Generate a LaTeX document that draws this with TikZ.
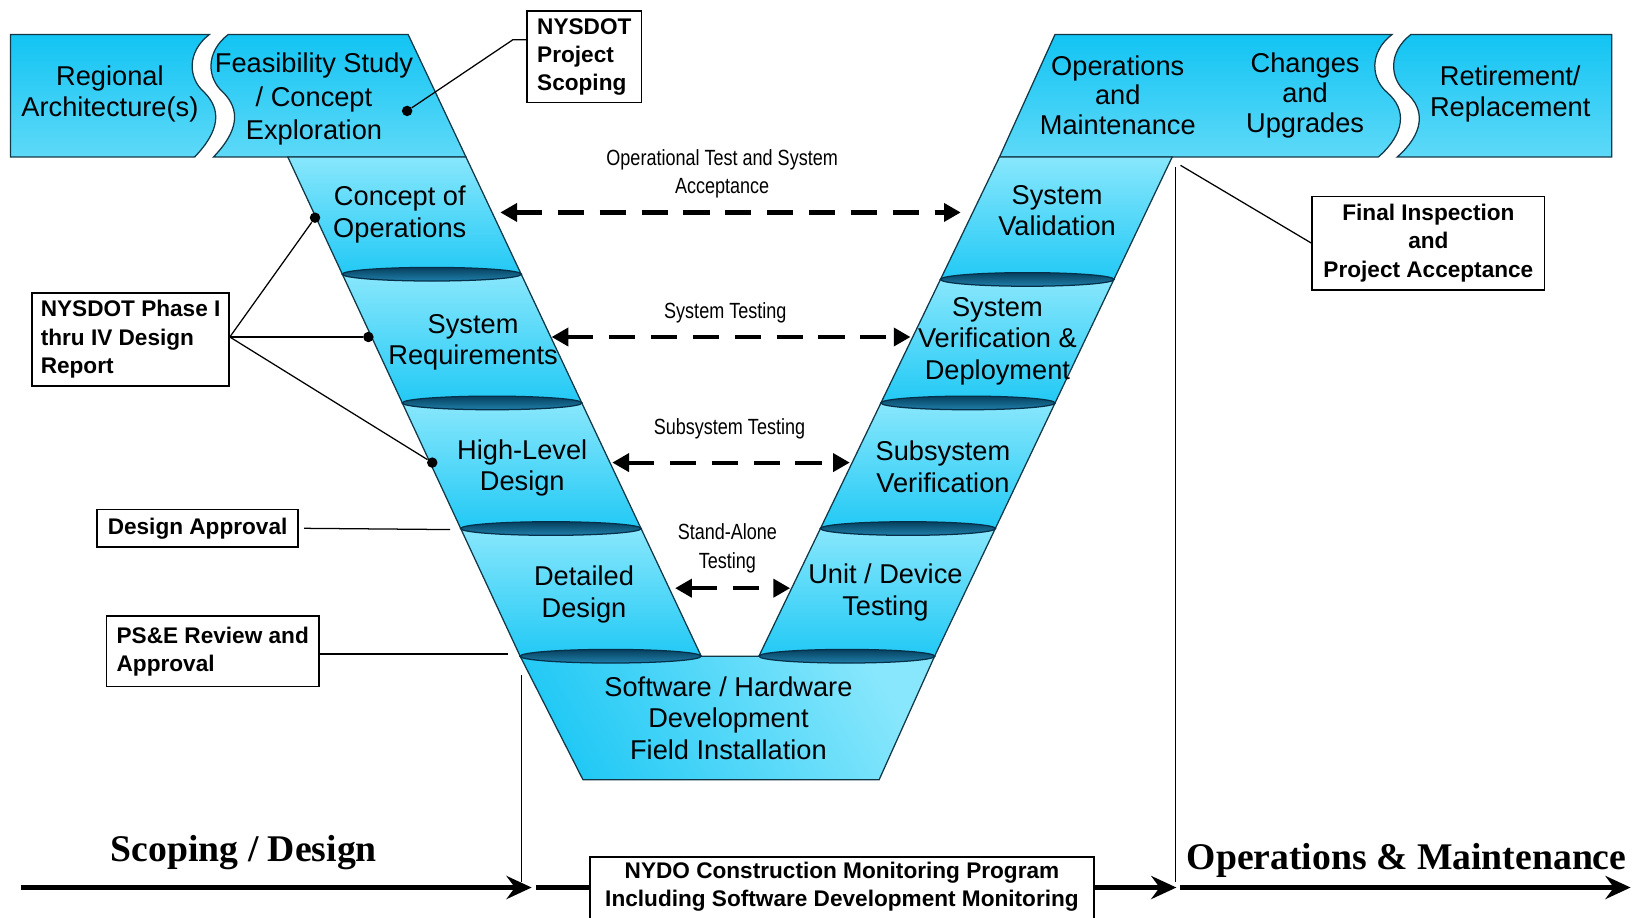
\documentclass[tikz,border=0pt]{standalone}
\usepackage{fontspec}
\setmainfont{Liberation Sans}
\newfontfamily\mytitlefont{Liberation Serif}
\newfontfamily\mynarrowfont[FakeStretch=0.82]{Liberation Sans}
\usetikzlibrary{arrows.meta}
\definecolor{segline}{HTML}{123848}
\definecolor{armlight}{HTML}{88E7FC}
\definecolor{armdark}{HTML}{22C9F5}
\definecolor{banddark}{HTML}{12C4F3}
\definecolor{bandlight}{HTML}{5ED9F8}
\definecolor{disktop}{HTML}{06405F}
\definecolor{diskbot}{HTML}{1F7FAA}
\definecolor{diskline}{HTML}{06304A}
\newcommand\myvfont{\fontsize{13}{15}\selectfont}
\newcommand\mycfont{\fontsize{10.8}{13.5}\selectfont\bfseries}
\newcommand\mytfont{\mynarrowfont\fontsize{10.5}{13.5}\selectfont}
\newcommand\myphfont{\mytitlefont\bfseries\fontsize{18}{20}\selectfont}
\tikzset{
 seg/.style={draw=segline, line width=0.6pt, top color=armlight, bottom color=armdark},
 bandseg/.style={draw=segline, line width=0.6pt, top color=banddark, bottom color=bandlight},
 disk/.style={draw=diskline, line width=0.6pt, top color=disktop, bottom color=diskbot},
 vlab/.style={font=\myvfont, align=center, inner sep=0pt, text=black},
 callout/.style={draw=black, line width=0.8pt, font=\mycfont, inner xsep=4pt, inner ysep=3pt},
 tlab/.style={font=\mytfont, align=center, inner sep=0pt},
 testarrow/.style={line width=2pt, dash pattern=on 12.5pt off 7.5pt, {Triangle[length=8pt,width=8.5pt]}-{Triangle[length=8pt,width=8.5pt]}},
 lead/.style={line width=0.6pt},
 pin/.style={circle, fill=black, inner sep=0pt, minimum size=5pt},
 timeline/.style={line width=2.6pt},
 timetip/.style={-{Stealth[length=12pt,width=11pt,inset=4pt]}},
 phase/.style={font=\myphfont, inner sep=0pt}
}
\begin{document}
\begin{tikzpicture}[x=0.5pt,y=-0.5pt]
\useasboundingbox (0,0) rectangle (1567,877);
\fill[white] (0,0) rectangle (1567,877);

% ---- top bands
\path[bandseg] (10,33) -- (200,33) .. controls (178,50) and (180,75) .. (195,88) .. controls (212,105) and (210,125) .. (186,150) -- (10,150) -- cycle;
\path[bandseg] (218,33) -- (390,33) -- (445.2,150) -- (204,150) .. controls (228,125) and (230,105) .. (213,88) .. controls (198,75) and (196,50) .. (218,33) -- cycle;
\path[bandseg] (955,150) -- (1008,33) -- (1330,33) .. controls (1308,50) and (1310,75) .. (1325,88) .. controls (1345,105) and (1342,128) .. (1317,150) -- cycle;
\path[bandseg] (1348,33) -- (1540,33) -- (1540,150) -- (1335,150) .. controls (1360,128) and (1363,105) .. (1343,88) .. controls (1328,75) and (1326,50) .. (1348,33) -- cycle;

% ---- left arm
\path[seg] (275,150) -- (445.2,150) -- (498,262) -- (327.1,262) -- cycle;
\path[seg] (327.1,262) -- (498,262) -- (555.9,385) -- (384.4,385) -- cycle;
\path[seg] (384.4,385) -- (555.9,385) -- (612.5,505) -- (440.2,505) -- cycle;
\path[seg] (440.2,505) -- (612.5,505) -- (670,627) -- (497,627) -- cycle;
% ---- bottom
\path[draw=segline, line width=0.6pt, left color=armdark, right color=armlight, shading angle=120] (497,627) -- (893,627) -- (840,745) -- (557,745) -- cycle;
% ---- right arm
\path[seg] (725.1,627) -- (893,627) -- (951,505) -- (783.9,505) -- cycle;
\path[seg] (783.9,505) -- (951,505) -- (1008.1,385) -- (841.7,385) -- cycle;
\path[seg] (841.7,385) -- (1008.1,385) -- (1064.3,267) -- (898.6,267) -- cycle;
\path[seg] (898.6,267) -- (1064.3,267) -- (1120,150) -- (955,150) -- cycle;

% ---- disks
\path[disk] (412.6,262) ellipse [x radius=85.5, y radius=6.5];
\path[disk] (470.2,385) ellipse [x radius=85.8, y radius=6.5];
\path[disk] (526.4,505) ellipse [x radius=86.2, y radius=6.5];
\path[disk] (583.5,627) ellipse [x radius=86.5, y radius=6.5];
\path[disk] (981.5,267) ellipse [x radius=82.9, y radius=6.5];
\path[disk] (924.9,385) ellipse [x radius=83.2, y radius=6.5];
\path[disk] (867.5,505) ellipse [x radius=83.6, y radius=6.5];
\path[disk] (809.1,627) ellipse [x radius=84, y radius=6.5];

% ---- labels in the V
\node[vlab] (regional) at (105,90) {Regional\\Architecture(s)};
\node[vlab, font=\fontsize{13}{16}\selectfont] (feas) at (300,95) {Feasibility Study\\/ Concept\\Exploration};
\node[vlab] (conops) at (382,205) {Concept of\\Operations};
\node[vlab] (sysreq) at (452,327) {System\\Requirements};
\node[vlab] (hld) at (499,447) {High-Level\\Design};
\node[vlab] (dd) at (558,568) {Detailed\\Design};
\node[vlab] (swhw) at (696,686) {Software / Hardware\\Development\\Field Installation};
\node[vlab] (unit) at (846,566) {Unit / Device\\Testing};
\node[vlab] (subver) at (901,446) {Subsystem\\Verification};
\node[vlab] (sysver) at (953,326) {System\\Verification \&\\Deployment};
\node[vlab] (sysval) at (1010,201) {System\\Validation};
\node[vlab, font=\fontsize{13}{14.3}\selectfont] (om) at (1068,91) {Operations\\and\\Maintenance};
\node[vlab, font=\fontsize{13}{14.3}\selectfont] (chg) at (1247,91) {Changes\\and\\Upgrades};
\node[vlab] (ret) at (1443,90) {Retirement/\\Replacement};

% ---- test arrows
\coordinate (t1l) at (478,203); \coordinate (t1r) at (918,203);
\coordinate (t2l) at (527,322); \coordinate (t2r) at (870,322);
\coordinate (t3l) at (585,442); \coordinate (t3r) at (812,442);
\coordinate (t4l) at (645,562); \coordinate (t4r) at (755,562);
\draw[testarrow] (t1l) -- (t1r);
\draw[testarrow] (t2l) -- (t2r);
\draw[testarrow] (t3l) -- (t3r);
\draw[testarrow] (t4l) -- (t4r);
\node[tlab] (l1) at (690,166) {Operational Test and System\\Acceptance};
\node[tlab] (l2) at (693,299) {System Testing};
\node[tlab] (l3) at (697,410) {Subsystem Testing};
\node[tlab] (l4) at (695,524) {Stand-Alone\\Testing};

% ---- callouts
\node[callout, align=left, anchor=north west, minimum width=54.5pt, minimum height=43.5pt] (scop) at (503,10) {NYSDOT\\Project\\Scoping};
\node[pin] (dscop) at (389,106) {};
\coordinate (kscop) at (490,38);
\draw[lead] (scop.west |- kscop) -- (kscop) -- (dscop);

\node[callout, align=left, anchor=north west, minimum width=94pt, minimum height=44.5pt] (phase) at (30,279) {NYSDOT Phase I\\thru IV Design\\Report};
\coordinate (phk) at (218,322);
\node[pin] (d1) at (301,208) {};
\node[pin] (d2) at (352,322) {};
\node[pin] (d3) at (413,442) {};
\draw[lead] (phase.east |- phk) -- (d1);
\draw[lead] (phase.east |- phk) -- (d2);
\draw[lead] (phase.east |- phk) -- (d3);

\node[callout, anchor=north west, minimum width=96pt, minimum height=18pt] (dapp) at (92,486) {Design Approval};
\coordinate (edapp) at (430,506);
\draw[lead] ([xshift=2.5pt]dapp.east) -- (edapp);

\node[callout, align=left, anchor=north west, minimum width=101.5pt, minimum height=33.5pt] (pse) at (101,588) {PS\&E Review and\\Approval};
\coordinate (epse) at (485,625);
\draw[lead] (pse.east |- epse) -- (epse);

\node[callout, align=center, anchor=north west, minimum width=111pt, minimum height=44.5pt] (fin) at (1253,187) {Final Inspection\\and\\Project Acceptance};
\coordinate (efin) at (1128,158);
\draw[lead] (fin.west) -- (efin);

% ---- vertical separators
\coordinate (v1t) at (498,645); \coordinate (v1b) at (498,843);
\coordinate (v2t) at (1123,160); \coordinate (v2b) at (1123,843);
\draw[lead] (v1t) -- (v1b);
\draw[lead] (v2t) -- (v2b);

% ---- timeline
\node[callout, align=center, anchor=north, inner ysep=2.5pt, minimum width=240.5pt] (nydo) at (804.5,818) {NYDO Construction Monitoring Program\\Including Software Development Monitoring\rule[-9pt]{0pt}{9pt}};
\coordinate (a0) at (20,848);
\coordinate (a1) at (508,848);
\coordinate (a2) at (512,848);
\coordinate (a3) at (1124,848);
\coordinate (a4) at (1127,848);
\coordinate (a5) at (1558,848);
\draw[timeline, timetip] (a0) -- (a1);
\draw[timeline] (a2) -- (nydo.west |- a2);
\draw[timeline, timetip] (nydo.east |- a3) -- (a3);
\draw[timeline, timetip] (a4) -- (a5);

\node[phase] (scd) at (233,815) {Scoping / Design};
\node[phase] (opm) at (1344,822) {Operations \& Maintenance};
\end{tikzpicture}
\end{document}
